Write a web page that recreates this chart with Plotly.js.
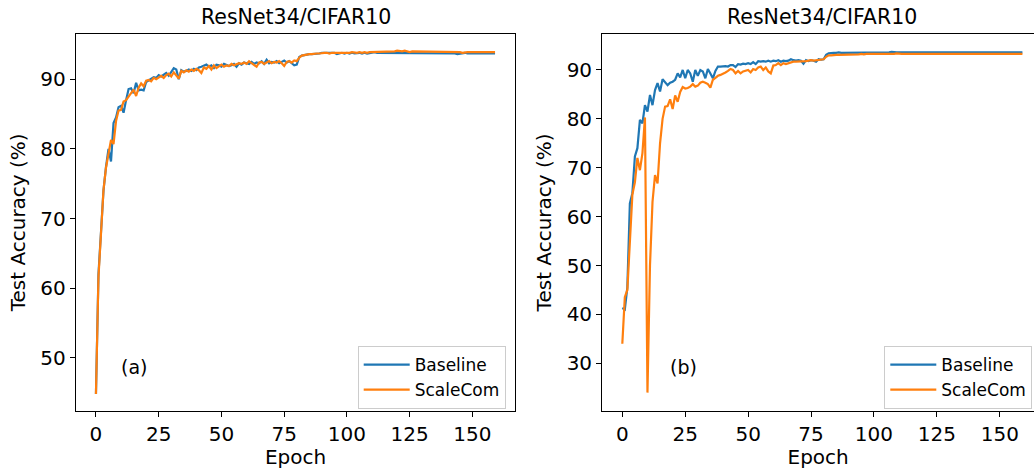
<!DOCTYPE html>
<html>
<head>
<meta charset="utf-8">
<script src="https://cdn.plot.ly/plotly-3.0.1.min.js"></script>
<style>
html,body{margin:0;padding:0;background:#fff;}
#chart{width:1034px;height:469px;}
</style>
</head>
<body>
<div id="chart"></div>
<script>
// Epochs 0..159
const epochs = Array.from({length: 160}, (_, i) => i);

// Panel (a): ResNet34/CIFAR10
const aBaseline = [
  44.8, 62.0, 68.0, 74.0, 77.4, 80.0, 78.2, 83.7, 84.5, 86.0,
  86.2, 85.2, 87.0, 88.6, 88.7, 88.0, 89.5, 88.4, 88.5, 88.4,
  89.6, 89.8, 90.0, 90.3, 90.2, 90.6, 90.4, 90.7, 90.9, 90.5,
  91.0, 91.6, 91.4, 90.0, 91.3, 91.1, 91.2, 91.4, 91.2, 91.5,
  91.3, 91.7, 91.8, 92.0, 92.1, 91.8, 92.0, 91.6, 92.1, 92.0,
  91.8, 92.2, 92.1, 91.9, 92.0, 92.2, 91.8, 92.3, 92.1, 92.4,
  92.3, 92.2, 92.5, 92.2, 92.4, 92.3, 92.6, 92.2, 92.8, 92.3,
  92.5, 92.4, 92.6, 92.3, 92.5, 92.7, 92.4, 92.6, 92.3, 92.0,
  92.1, 93.2, 93.4, 93.5, 93.5, 93.6, 93.6, 93.6, 93.7, 93.7,
  93.8, 93.8, 93.7, 93.8, 93.7, 93.8, 93.6, 93.7, 93.8, 93.7,
  93.8, 93.7, 93.8, 93.7, 93.8, 93.8, 93.7, 93.8, 93.7, 93.8,
  93.8, 93.9, 93.8, 93.8, 93.7, 93.8, 93.8, 93.7, 93.8, 93.8,
  93.8, 93.8, 93.7, 93.8, 93.8, 93.7, 93.8, 93.7, 93.8, 93.8,
  93.7, 93.8, 93.7, 93.7, 93.8, 93.7, 93.7, 93.8, 93.7, 93.7,
  93.7, 93.8, 93.7, 93.7, 93.6, 93.7, 93.7, 93.8, 93.7, 93.7,
  93.7, 93.7, 93.6, 93.7, 93.7, 93.7, 93.6, 93.7, 93.7, 93.7
];
const aScaleCom = [
  44.8, 61.6, 67.8, 74.1, 77.3, 79.6, 81.3, 80.7, 84.0, 85.5,
  85.6, 86.8, 87.0, 87.5, 88.0, 88.5, 87.6, 88.8, 89.4, 89.0,
  89.8, 89.9, 89.7, 90.2, 90.0, 90.3, 90.5, 90.2, 90.6, 90.8,
  90.4, 91.0, 90.6, 90.1, 91.2, 91.0, 91.3, 91.1, 91.4, 91.2,
  91.5, 91.3, 90.9, 91.7, 91.5, 91.9, 91.4, 92.0, 91.6, 91.9,
  92.1, 91.8, 92.0, 91.9, 92.2, 92.0, 92.1, 92.3, 92.2, 92.4,
  92.2, 92.6, 92.3, 92.1, 91.8, 92.4, 92.5, 92.2, 92.4, 92.6,
  92.3, 92.5, 92.4, 92.6, 92.3, 91.9, 92.5, 92.6, 92.4, 92.7,
  92.6, 93.1, 93.4, 93.5, 93.5, 93.6, 93.6, 93.7, 93.7, 93.7,
  93.8, 93.8, 93.8, 93.7, 93.8, 93.8, 93.7, 93.8, 93.8, 93.7,
  93.8, 93.8, 93.9, 93.8, 93.8, 93.9, 93.8, 93.9, 93.8, 93.9,
  93.9, 93.9, 94.0, 93.9, 93.9, 94.0, 93.9, 93.9, 94.0, 94.0,
  94.1, 94.0, 94.0, 94.1, 94.0, 93.9, 94.0, 94.0, 93.9, 94.0,
  94.0, 93.9, 94.0, 93.9, 94.0, 93.9, 94.0, 93.9, 93.9, 94.0,
  93.9, 93.9, 94.0, 93.9, 93.9, 93.9, 93.8, 93.9, 93.9, 93.9,
  93.9, 93.9, 93.8, 93.9, 93.9, 93.9, 93.8, 93.9, 93.9, 93.9
];

// Panel (b): ResNet34/CIFAR10
const bBaseline = [
  41.3, 41.0, 45.5, 62.7, 64.8, 72.3, 74.0, 79.8, 79.1, 82.8,
  81.5, 84.9, 82.8, 85.9, 87.3, 85.6, 88.1, 87.6, 86.9, 87.4,
  87.6, 88.0, 89.3, 88.5, 90.0, 88.3, 90.0, 89.3, 87.6, 90.0,
  88.8, 90.0, 89.7, 88.3, 90.2, 89.3, 88.3, 89.8, 90.7, 90.7,
  90.8, 90.8, 90.7, 91.0, 91.0, 90.6, 91.2, 91.1, 91.3, 91.2,
  91.4, 91.2, 91.6, 91.2, 91.8, 91.7, 91.8, 91.7, 91.9, 91.7,
  91.9, 91.8, 92.0, 91.7, 91.9, 91.8, 91.9, 92.2, 92.0, 91.9,
  92.0, 91.9, 91.3, 92.0, 91.8, 92.0, 91.9, 91.7, 92.2, 92.1,
  92.2, 93.1, 93.4, 93.5, 93.5, 93.5, 93.6, 93.5, 93.5, 93.6,
  93.5, 93.6, 93.6, 93.5, 93.6, 93.6, 93.6, 93.5, 93.6, 93.6,
  93.6, 93.6, 93.5, 93.6, 93.6, 93.6, 93.6, 93.7, 93.6, 93.6,
  93.6, 93.6, 93.6, 93.7, 93.6, 93.6, 93.6, 93.6, 93.6, 93.7,
  93.6, 93.6, 93.7, 93.6, 93.6, 93.7, 93.7, 93.6, 93.7, 93.7,
  93.7, 93.6, 93.7, 93.7, 93.6, 93.7, 93.6, 93.7, 93.6, 93.6,
  93.7, 93.6, 93.6, 93.6, 93.7, 93.6, 93.6, 93.6, 93.6, 93.6,
  93.6, 93.6, 93.6, 93.6, 93.6, 93.6, 93.6, 93.6, 93.6, 93.6
];
const bScaleCom = [
  34.0, 43.5, 45.0, 55.0, 64.5, 67.0, 72.0, 69.5, 73.0, 80.3,
  24.0, 50.0, 63.0, 68.5, 66.8, 75.0, 80.0, 82.5, 82.6, 84.0,
  82.0, 84.8, 83.5, 85.5, 86.5, 86.2, 86.3, 86.6, 87.1, 86.6,
  86.8, 87.4, 87.6, 87.4, 87.1, 86.4, 88.0, 88.4, 88.8, 89.0,
  89.2, 89.5, 89.8, 90.2, 90.0, 89.3, 89.8, 89.3, 89.7, 89.9,
  90.0, 89.5, 90.2, 90.0, 90.5, 90.7, 90.0, 90.5, 89.7, 89.3,
  90.9, 91.0, 91.4, 91.0, 91.4, 91.2, 91.4, 91.6, 91.7, 91.7,
  91.7, 91.8, 91.8, 91.8, 91.9, 92.0, 91.9, 92.0, 92.1, 92.1,
  92.2, 92.7, 93.0, 93.0, 93.1, 93.1, 93.1, 93.1, 93.2, 93.1,
  93.2, 93.2, 93.1, 93.2, 93.2, 93.3, 93.2, 93.3, 93.3, 93.3,
  93.3, 93.3, 93.2, 93.3, 93.3, 93.3, 93.3, 93.3, 93.3, 93.4,
  93.3, 93.3, 93.3, 93.3, 93.4, 93.3, 93.3, 93.3, 93.3, 93.3,
  93.3, 93.4, 93.3, 93.3, 93.3, 93.3, 93.4, 93.3, 93.3, 93.3,
  93.3, 93.3, 93.3, 93.4, 93.3, 93.3, 93.3, 93.3, 93.3, 93.3,
  93.3, 93.3, 93.3, 93.3, 93.3, 93.3, 93.3, 93.3, 93.3, 93.3,
  93.3, 93.3, 93.3, 93.3, 93.3, 93.3, 93.3, 93.3, 93.3, 93.3
];

const seriesNames = ['Baseline', 'ScaleCom'];
const panelTitles = ['ResNet34/CIFAR10', 'ResNet34/CIFAR10'];
const panelLabels = ['(a)', '(b)'];
const xTicks = [0, 25, 50, 75, 100, 125, 150];
const aYTicks = [50, 60, 70, 80, 90];
const bYTicks = [30, 40, 50, 60, 70, 80, 90];

const BLUE = '#1f77b4', ORANGE = '#ff7f0e';
const FONT = 'DejaVu Sans, sans-serif';
const W = 1034, H = 469;

function tr(y, name, color, xa, ya, leg) {
  return {x: epochs, y: y, name: name, type: 'scatter', mode: 'lines',
          line: {color: color, width: 2.2}, xaxis: xa, yaxis: ya, legend: leg};
}

const data = [
  tr(aBaseline, seriesNames[0], BLUE, 'x', 'y', 'legend'),
  tr(aScaleCom, seriesNames[1], ORANGE, 'x', 'y', 'legend'),
  tr(bBaseline, seriesNames[0], BLUE, 'x2', 'y2', 'legend2'),
  tr(bScaleCom, seriesNames[1], ORANGE, 'x2', 'y2', 'legend2')
];

const axCommon = {
  showline: true, linecolor: '#000', linewidth: 1.2,
  ticks: 'outside', ticklen: 5, tickwidth: 1, tickcolor: '#000',
  showgrid: false, zeroline: false,
  tickfont: {family: FONT, size: 20, color: '#000'}
};
const axTitleFont = {family: FONT, size: 20, color: '#000'};

const legCommon = {
  bgcolor: 'rgba(255,255,255,0.9)', bordercolor: '#cccccc', borderwidth: 1,
  font: {family: FONT, size: 17, color: '#000'},
  xanchor: 'left', yanchor: 'top', tracegroupgap: 0, itemwidth: 46
};

const layout = {
  width: W, height: H,
  margin: {l: 0, r: 0, t: 0, b: 0},
  paper_bgcolor: '#fff', plot_bgcolor: '#fff',
  showlegend: true,
  xaxis: Object.assign({}, axCommon, {
    domain: [76/W, 515/W], range: [-7.95, 166.95], tickvals: xTicks, mirror: true,
    anchor: 'y',
    title: {text: 'Epoch', font: axTitleFont, standoff: 4}
  }),
  yaxis: Object.assign({}, axCommon, {
    domain: [1 - 410.7/H, 1 - 34/H], range: [42.4, 96.5], tickvals: aYTicks, mirror: true,
    anchor: 'x',
    title: {text: 'Test Accuracy (%)', font: axTitleFont, standoff: 9}
  }),
  xaxis2: Object.assign({}, axCommon, {
    domain: [602.3/W, 1], range: [-7.95, 163.6], tickvals: xTicks, mirror: true,
    anchor: 'y2',
    title: {text: 'Epoch', font: axTitleFont, standoff: 4}
  }),
  yaxis2: Object.assign({}, axCommon, {
    domain: [1 - 410.7/H, 1 - 34/H], range: [20.3, 97.36], tickvals: bYTicks, mirror: false,
    anchor: 'x2',
    title: {text: 'Test Accuracy (%)', font: axTitleFont, standoff: 9}
  }),
  legend: Object.assign({}, legCommon, {x: 357.7/W, y: 1 - 346/H}),
  legend2: Object.assign({}, legCommon, {x: 884.3/W, y: 1 - 346/H}),
  annotations: [
    {text: panelTitles[0], xref: 'paper', yref: 'paper', x: 295.5/W, y: 1 - 17/H,
     xanchor: 'center', yanchor: 'middle', showarrow: false,
     font: {family: FONT, size: 20.5, color: '#000'}},
    {text: panelTitles[1], xref: 'paper', yref: 'paper', x: 821.6/W, y: 1 - 17/H,
     xanchor: 'center', yanchor: 'middle', showarrow: false,
     font: {family: FONT, size: 20.5, color: '#000'}},
    {text: panelLabels[0], xref: 'paper', yref: 'paper', x: 134/W, y: 1 - 367/H,
     xanchor: 'center', yanchor: 'middle', showarrow: false,
     font: {family: FONT, size: 19, color: '#000'}},
    {text: panelLabels[1], xref: 'paper', yref: 'paper', x: 683/W, y: 1 - 367/H,
     xanchor: 'center', yanchor: 'middle', showarrow: false,
     font: {family: FONT, size: 19, color: '#000'}}
  ]
};

Plotly.newPlot('chart', data, layout, {displayModeBar: false, staticPlot: true});
</script>
</body>
</html>
